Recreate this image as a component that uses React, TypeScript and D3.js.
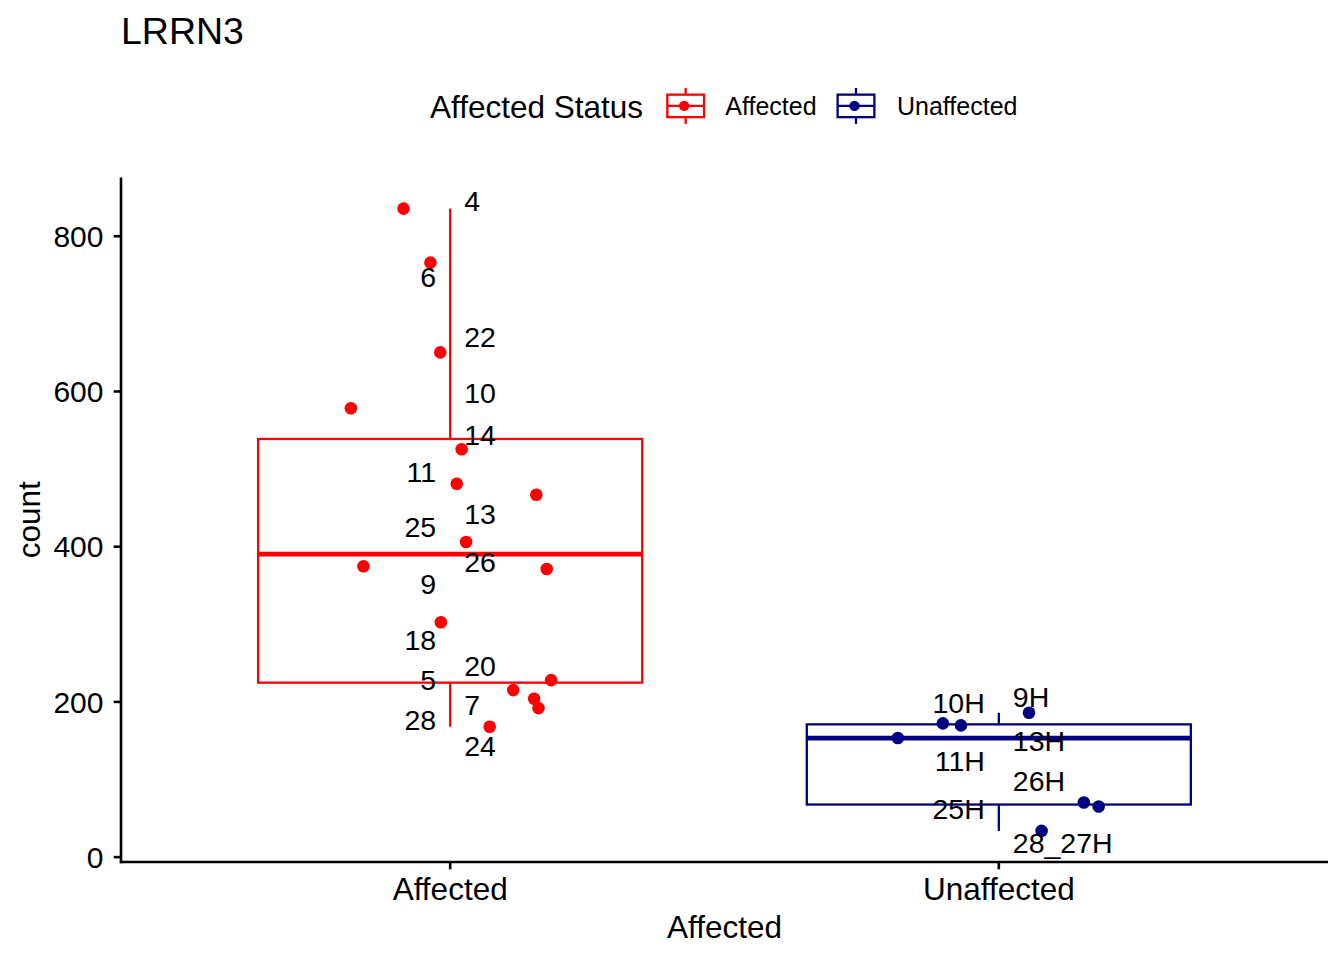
import * as d3 from 'd3';

// groups and colours
const groups = ['Affected', 'Unaffected'];
const groupColors = ['#ff0000', '#000080'];

// Affected samples (id, count, horizontal jitter in band steps, label y, label side)
const affectedIds = ['4', '6', '22', '10', '14', '11', '13', '25', '26', '9', '18', '20', '5', '7', '28', '24'];
const affectedCounts = [835.6, 766, 650.4, 578.4, 525.6, 481, 466.9, 406, 374.7, 371.3, 302.7, 228, 215.2, 204, 192, 168];
const affectedJitter = [-0.085, -0.036, -0.018, -0.181, 0.021, 0.012, 0.157, 0.029, -0.158, 0.176, -0.017, 0.184, 0.115, 0.153, 0.161, 0.072];
const affectedLabelY = [846.3, 747.6, 670.5, 598.5, 544, 496, 442.4, 425.3, 381.1, 352.4, 280.4, 246.1, 229, 196.8, 177.5, 143.2];
const affectedLabelSide = [1, -1, 1, 1, 1, -1, 1, -1, 1, -1, -1, 1, -1, 1, -1, 1];

// Unaffected samples
const unaffectedIds = ['9H', '10H', '13H', '11H', '26H', '25H', '28_27H'];
const unaffectedCounts = [186, 172.3, 169.8, 153.4, 70.3, 65.2, 33.8];
const unaffectedJitter = [0.055, -0.102, -0.069, -0.184, 0.155, 0.182, 0.078];
const unaffectedLabelY = [206.7, 199, 149.6, 123.9, 98.1, 61.7, 18.9];
const unaffectedLabelSide = [1, -1, 1, -1, 1, -1, 1];

const yTicks = [0, 200, 400, 600, 800];

const W = 1344;
const H = 960;
const FONT = '"Liberation Sans", Arial, Helvetica, sans-serif';
const panel = { left: 121, right: 1328, top: 177.5, bottom: 862 };

type Sample = { id: string; count: number; jitter: number; labelY: number; side: number };

const zip = (ids: string[], c: number[], j: number[], ly: number[], s: number[]): Sample[] =>
  ids.map((id, i) => ({ id, count: c[i], jitter: j[i], labelY: ly[i], side: s[i] }));

const samples: Sample[][] = [
  zip(affectedIds, affectedCounts, affectedJitter, affectedLabelY, affectedLabelSide),
  zip(unaffectedIds, unaffectedCounts, unaffectedJitter, unaffectedLabelY, unaffectedLabelSide),
];

function boxStats(values: number[]) {
  const s = [...values].sort(d3.ascending);
  const q1 = d3.quantile(s, 0.25)!;
  const med = d3.quantile(s, 0.5)!;
  const q3 = d3.quantile(s, 0.75)!;
  const iqr = q3 - q1;
  const lo = d3.min(s.filter((v) => v >= q1 - 1.5 * iqr))!;
  const hi = d3.max(s.filter((v) => v <= q3 + 1.5 * iqr))!;
  return { q1, med, q3, lo, hi };
}

export default function App() {
  const all = samples.flat().map((d) => d.count);
  const [mn, mx] = d3.extent(all) as [number, number];
  const pad = (mx - mn) * 0.05;

  const y = d3.scaleLinear().domain([mn - pad, mx + pad]).range([panel.bottom, panel.top]);
  const x = d3.scalePoint<string>().domain(groups).range([panel.left, panel.right]).padding(0.6);
  const step = x.step();
  const boxW = step * 0.7;

  return (
    <svg width={W} height={H} style={{ position: 'absolute', left: 0, top: 0, background: '#fff' }} fontFamily={FONT}>
      {/* title */}
      <text x={121} y={44} fontSize={37.5} fill="#000">LRRN3</text>

      {/* legend */}
      <text x={430} y={117.5} fontSize={31.5} fill="#000">Affected Status</text>
      {groups.map((g, i) => {
        const cx = i === 0 ? 685.7 : 856;
        const cy = 105.9;
        const kw = 49;
        const kh = 45;
        const col = groupColors[i];
        return (
          <g key={g}>
            <line x1={cx} x2={cx} y1={cy - 0.4 * kh} y2={cy - 0.25 * kh} stroke={col} strokeWidth={2.3} />
            <line x1={cx} x2={cx} y1={cy + 0.25 * kh} y2={cy + 0.4 * kh} stroke={col} strokeWidth={2.3} />
            <rect x={cx - 0.375 * kw} y={cy - 0.25 * kh} width={0.75 * kw} height={0.5 * kh} fill="#fff" stroke={col} strokeWidth={2.3} />
            <line x1={cx - 0.375 * kw} x2={cx + 0.375 * kw} y1={cy} y2={cy} stroke={col} strokeWidth={2.3} />
            <circle cx={cx - 1.5} cy={cy} r={5.2} fill={col} />
            <text x={i === 0 ? 725.3 : 897} y={114.5} fontSize={25} fill="#000">{g}</text>
          </g>
        );
      })}

      {/* boxes */}
      {groups.map((g, i) => {
        const st = boxStats(samples[i].map((d) => d.count));
        const cx = x(g)!;
        const col = groupColors[i];
        return (
          <g key={g}>
            <line x1={cx} x2={cx} y1={y(st.hi)} y2={y(st.q3)} stroke={col} strokeWidth={2.3} />
            <line x1={cx} x2={cx} y1={y(st.q1)} y2={y(st.lo)} stroke={col} strokeWidth={2.3} />
            <rect x={cx - boxW / 2} y={y(st.q3)} width={boxW} height={y(st.q1) - y(st.q3)} fill="none" stroke={col} strokeWidth={2.3} />
            <line x1={cx - boxW / 2} x2={cx + boxW / 2} y1={y(st.med)} y2={y(st.med)} stroke={col} strokeWidth={4.8} />
          </g>
        );
      })}

      {/* jittered points */}
      {groups.map((g, i) =>
        samples[i].map((d) => (
          <circle key={g + d.id} cx={x(g)! + d.jitter * step} cy={y(d.count)} r={6.3} fill={groupColors[i]} />
        ))
      )}

      {/* sample labels */}
      {groups.map((g, i) =>
        samples[i].map((d) => (
          <text
            key={'l' + g + d.id}
            x={x(g)! + d.side * 14}
            y={y(d.labelY)}
            dy="0.36em"
            textAnchor={d.side > 0 ? 'start' : 'end'}
            fontSize={28.5}
            fill="#000"
          >
            {d.id}
          </text>
        ))
      )}

      {/* axes */}
      <line x1={panel.left} x2={panel.left} y1={panel.top} y2={panel.bottom + 1.2} stroke="#000" strokeWidth={2.6} />
      <line x1={panel.left - 1.2} x2={panel.right} y1={panel.bottom} y2={panel.bottom} stroke="#000" strokeWidth={2.6} />
      {yTicks.map((t) => (
        <g key={t}>
          <line x1={panel.left - 7.3} x2={panel.left} y1={y(t)} y2={y(t)} stroke="#000" strokeWidth={2.6} />
          <text x={103.5} y={y(t)} dy="0.36em" textAnchor="end" fontSize={30} fill="#000">{t}</text>
        </g>
      ))}
      {groups.map((g) => (
        <g key={'xt' + g}>
          <line x1={x(g)!} x2={x(g)!} y1={panel.bottom} y2={panel.bottom + 7.3} stroke="#000" strokeWidth={2.6} />
          <text x={x(g)!} y={900} textAnchor="middle" fontSize={31.5} fill="#000">{g}</text>
        </g>
      ))}
      <text x={(panel.left + panel.right) / 2} y={938} textAnchor="middle" fontSize={31.5} fill="#000">Affected</text>
      <text transform={`translate(39.5, ${(panel.top + panel.bottom) / 2}) rotate(-90)`} textAnchor="middle" fontSize={31.5} fill="#000">count</text>
    </svg>
  );
}
